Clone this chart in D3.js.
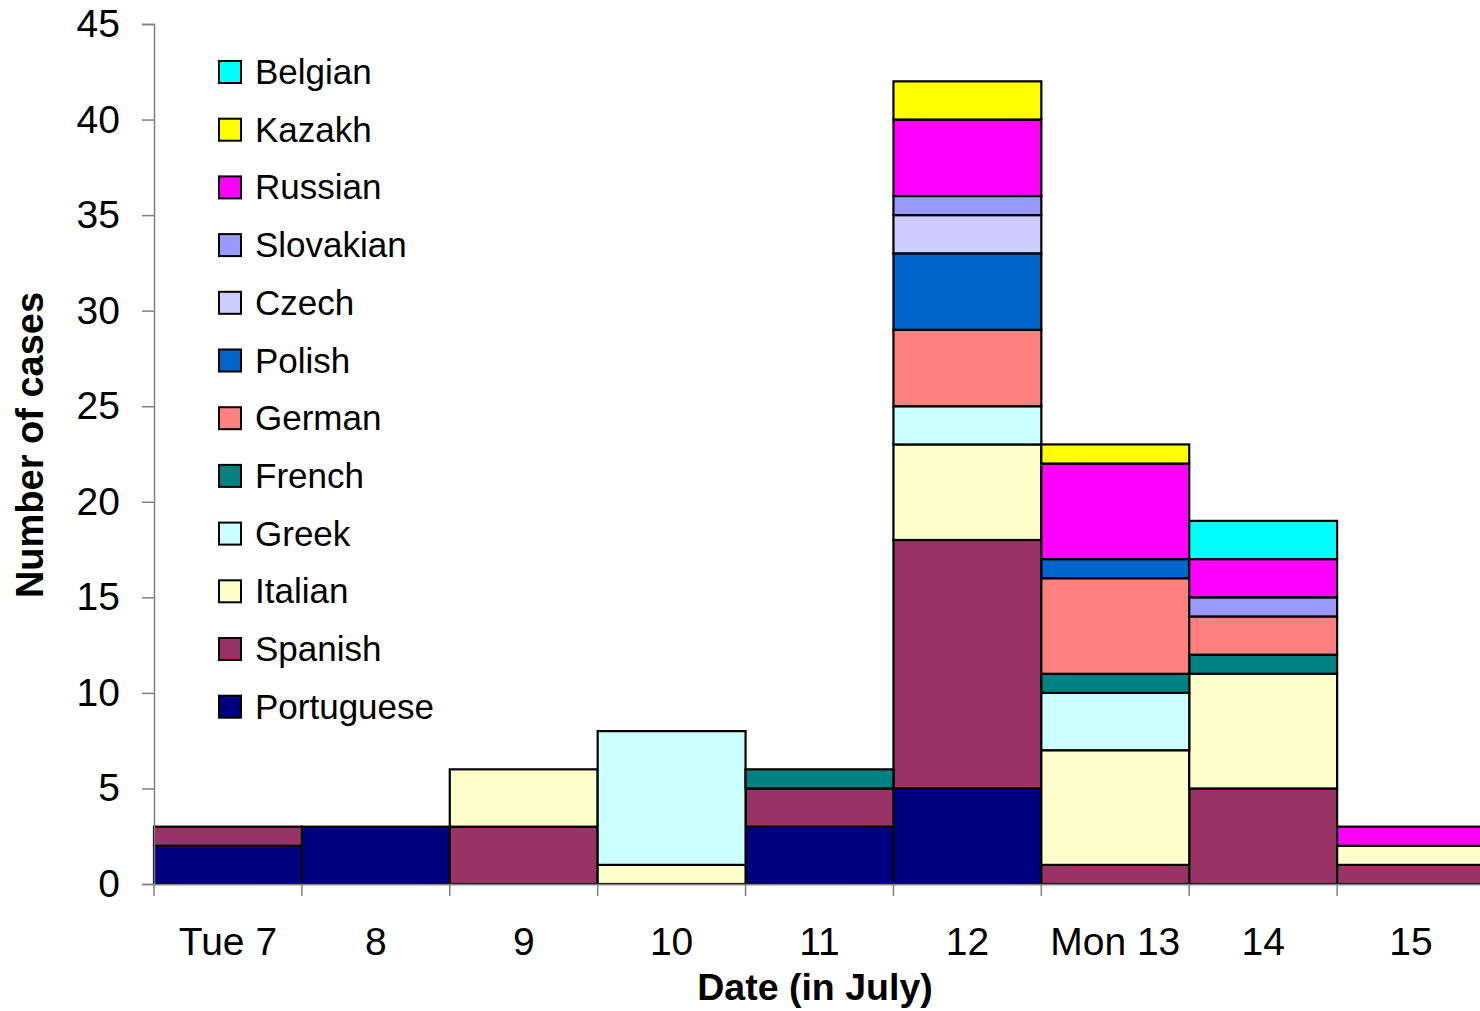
<!DOCTYPE html>
<html><head><meta charset="utf-8">
<script src="https://cdn.jsdelivr.net/npm/d3@7"></script>
<style>body{margin:0;background:#fff}svg{display:block;font-family:"Liberation Sans",Arial,sans-serif}</style>
</head><body><svg id="c" width="1480" height="1011"></svg>
<script>
const categories = ["Tue 7","8","9","10","11","12","Mon 13","14","15"];
const seriesNames = ["Portuguese","Spanish","Italian","Greek","French","German","Polish","Czech","Slovakian","Russian","Kazakh","Belgian"];
const Portuguese = [2,3,0,0,3,5,0,0,0];
const Spanish    = [1,0,3,0,2,13,1,5,1];
const Italian    = [0,0,3,1,0,5,6,6,1];
const Greek      = [0,0,0,7,0,2,3,0,0];
const French     = [0,0,0,0,1,0,1,1,0];
const German     = [0,0,0,0,0,4,5,2,0];
const Polish     = [0,0,0,0,0,4,1,0,0];
const Czech      = [0,0,0,0,0,2,0,0,0];
const Slovakian  = [0,0,0,0,0,1,0,1,0];
const Russian    = [0,0,0,0,0,4,5,2,1];
const Kazakh     = [0,0,0,0,0,2,1,0,0];
const Belgian    = [0,0,0,0,0,0,0,2,0];
const yTicks = [0,5,10,15,20,25,30,35,40,45];
const colors = {Portuguese:"#000080",Spanish:"#993366",Italian:"#FFFFCC",Greek:"#CCFFFF",French:"#008080",German:"#FF8080",Polish:"#0066CC",Czech:"#CCCCFF",Slovakian:"#9999FF",Russian:"#FF00FF",Kazakh:"#FFFF00",Belgian:"#00FFFF"};
const values = {Portuguese,Spanish,Italian,Greek,French,German,Polish,Czech,Slovakian,Russian,Kazakh,Belgian};

const rows = categories.map((c,i)=>{const r={cat:c}; seriesNames.forEach(s=>r[s]=values[s][i]); return r;});
const stack = d3.stack().keys(seriesNames)(rows);

const svg = d3.select("#c");
const x = d3.scaleBand().domain(categories).range([154,1485]).padding(0);
const y = d3.scaleLinear().domain([0,45]).range([884,24]);

// bars
const g = svg.append("g");
stack.forEach(layer=>{
  g.selectAll(null).data(layer.filter(d=>d[1]-d[0]>0)).join("rect")
   .attr("x",d=>x(d.data.cat)).attr("width",x.bandwidth())
   .attr("y",d=>y(d[1])).attr("height",d=>y(d[0])-y(d[1]))
   .attr("fill",colors[layer.key]).attr("stroke","#000").attr("stroke-width",2.2);
});

// y axis
const ya = svg.append("g").attr("transform","translate(154,0)")
  .call(d3.axisLeft(y).tickValues(yTicks).tickSize(12).tickPadding(22));
ya.selectAll("line,path").attr("stroke","#808080").attr("stroke-width",1.5);
ya.selectAll("text").attr("font-size",39).attr("fill","#000").attr("font-family","Liberation Sans, Arial, sans-serif");

// x axis
const xa = svg.append("g").attr("transform","translate(0,884)")
  .call(d3.axisBottom(x).tickSize(0).tickPadding(0));
xa.select("path").attr("stroke","#808080").attr("stroke-width",1.5);
xa.selectAll("text").attr("font-size",39).attr("fill","#000").attr("y",71).attr("dy",0)
  .attr("font-family","Liberation Sans, Arial, sans-serif");
// boundary ticks
const bounds = categories.map(c=>x(c));
svg.append("g").selectAll("line").data(bounds).join("line")
  .attr("x1",d=>d).attr("x2",d=>d).attr("y1",884).attr("y2",896)
  .attr("stroke","#808080").attr("stroke-width",1.5);

// titles
svg.append("text").attr("transform","translate(43,445) rotate(-90)").attr("text-anchor","middle")
  .attr("font-size",38).attr("font-weight","bold").text("Number of cases");
svg.append("text").attr("x",815).attr("y",1000).attr("text-anchor","middle")
  .attr("font-size",37.5).attr("font-weight","bold").text("Date (in July)");

// legend
const leg = svg.append("g");
const legOrder = seriesNames.slice().reverse();
legOrder.forEach((s,i)=>{
  const cy = 72 + i*57.7;
  leg.append("rect").attr("x",219).attr("y",cy-11).attr("width",22).attr("height",22)
    .attr("fill",colors[s]).attr("stroke","#000").attr("stroke-width",2);
  leg.append("text").attr("x",255).attr("y",cy+12).attr("font-size",35).text(s);
});
</script></body></html>
